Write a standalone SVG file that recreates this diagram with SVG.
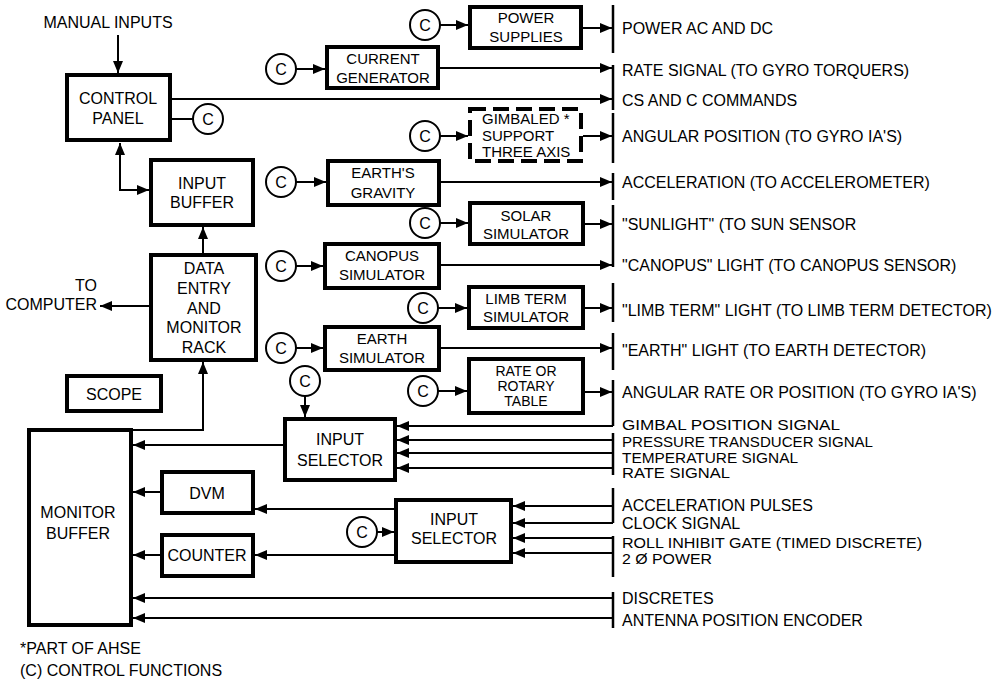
<svg xmlns="http://www.w3.org/2000/svg" width="997" height="683" viewBox="0 0 997 683">
<style>
text{font-family:"Liberation Sans",Arial,sans-serif;font-size:16px;fill:#000}
.m{text-anchor:middle}
.b{font-size:15px}
.s{font-size:14px}
.t{font-size:14px}
.box{fill:#fff;stroke:#000;stroke-width:4}
.dash{fill:#fff;stroke:#000;stroke-width:4;stroke-dasharray:16 7}
.ln{fill:none;stroke:#000;stroke-width:2}
.ar{fill:none;stroke:#000;stroke-width:2;marker-end:url(#ah)}
.bar{fill:none;stroke:#000;stroke-width:2.5}
.cc{fill:#fff;stroke:#000;stroke-width:2}
</style>
<defs>
<marker id="ah" viewBox="0 0 12 10" refX="12" refY="5" markerWidth="12" markerHeight="10" markerUnits="userSpaceOnUse" orient="auto-start-reverse"><path d="M0,0 L12,5 L0,10 z" fill="#000"/></marker>
</defs>
<rect width="997" height="683" fill="#fff"/>

<g id="connectors">
<line class="ar" x1="118" y1="35" x2="118" y2="73"/>
<line class="ln" x1="172" y1="119" x2="193" y2="119"/>
<line class="ar" x1="172" y1="99" x2="612" y2="99"/>
<path class="ar" d="M120,143 V190 H149" style="marker-start:url(#ah)"/>
<line class="ar" x1="203" y1="253" x2="203" y2="227"/>
<line class="ar" x1="149" y1="306" x2="100" y2="306"/>
<path class="ar" d="M131,430 H203 V362"/>
<line class="ar" x1="305" y1="396" x2="305" y2="417"/>
<line class="ar" x1="283" y1="445" x2="133" y2="445"/>
<line class="ar" x1="613" y1="426" x2="397" y2="426"/>
<line class="ar" x1="613" y1="440" x2="397" y2="440"/>
<line class="ar" x1="613" y1="453" x2="397" y2="453"/>
<line class="ar" x1="613" y1="468" x2="397" y2="468"/>
<line class="ar" x1="160" y1="492" x2="133" y2="492"/>
<line class="ar" x1="160" y1="555" x2="133" y2="555"/>
<line class="ar" x1="377" y1="532" x2="394" y2="532"/>
<line class="ar" x1="394" y1="509" x2="255" y2="509"/>
<line class="ar" x1="394" y1="555" x2="255" y2="555"/>
<line class="ar" x1="613" y1="506" x2="513" y2="506"/>
<line class="ar" x1="613" y1="523" x2="513" y2="523"/>
<line class="ar" x1="613" y1="538" x2="513" y2="538"/>
<line class="ar" x1="613" y1="553" x2="513" y2="553"/>
<line class="ar" x1="613" y1="598" x2="133" y2="598"/>
<line class="ar" x1="613" y1="618" x2="133" y2="618"/>
<line class="ar" x1="440" y1="25" x2="468" y2="25"/>
<line class="ar" x1="583" y1="28" x2="612" y2="28"/>
<line class="ar" x1="296" y1="69" x2="325" y2="69"/>
<line class="ar" x1="440" y1="68" x2="612" y2="68"/>
<line class="ar" x1="440" y1="136" x2="468" y2="136"/>
<line class="ar" x1="583" y1="136" x2="612" y2="136"/>
<line class="ar" x1="296" y1="182" x2="326" y2="182"/>
<line class="ar" x1="441" y1="182" x2="612" y2="182"/>
<line class="ar" x1="440" y1="223" x2="468" y2="223"/>
<line class="ar" x1="585" y1="224" x2="612" y2="224"/>
<line class="ar" x1="296" y1="266" x2="323" y2="266"/>
<line class="ar" x1="441" y1="265" x2="612" y2="265"/>
<line class="ar" x1="438" y1="308" x2="467" y2="308"/>
<line class="ar" x1="585" y1="308" x2="612" y2="308"/>
<line class="ar" x1="296" y1="348" x2="323" y2="348"/>
<line class="ar" x1="441" y1="348" x2="612" y2="348"/>
<line class="ar" x1="438" y1="391" x2="467" y2="391"/>
<line class="ar" x1="585" y1="392" x2="612" y2="392"/>
<path class="bar" d="M613,5 V53 M613,65 V110 M613,113 V163 M613,173 V200 M613,205 V267 M613,283 V322 M613,333 V370 M613,380 V426 M613,433 V475 M613,488 V523 M613,536 V577 M613,592 V628"/>
</g>

<g id="manual-inputs"><text class="m" x="108" y="28">MANUAL INPUTS</text></g>
<g id="control-panel"><rect class="box" x="67" y="75" width="103" height="65"/><text class="m" x="118" y="104">CONTROL</text><text class="m" x="118" y="124">PANEL</text></g>
<g id="c-control"><circle class="cc" cx="208" cy="119" r="15"/><text class="m" x="208" y="125">C</text></g>
<g id="input-buffer"><rect class="box" x="151" y="160" width="102" height="65"/><text class="m" x="202" y="189">INPUT</text><text class="m" x="202" y="208">BUFFER</text></g>
<g id="data-entry"><rect class="box" x="151" y="255" width="105" height="105"/><text class="m" x="204" y="274">DATA</text><text class="m" x="204" y="294">ENTRY</text><text class="m" x="204" y="314">AND</text><text class="m" x="204" y="333">MONITOR</text><text class="m" x="204" y="353">RACK</text></g>
<g id="to-computer"><text x="97" y="291" text-anchor="end">TO</text><text x="97" y="310" text-anchor="end">COMPUTER</text></g>
<g id="scope"><rect class="box" x="67" y="376" width="94" height="35"/><text class="m" x="114" y="400">SCOPE</text></g>
<g id="monitor-buffer"><rect class="box" x="29" y="430" width="102" height="195"/><text class="m" x="78" y="518">MONITOR</text><text class="m" x="78" y="539">BUFFER</text></g>
<g id="input-selector-1"><rect class="box" x="285" y="419" width="110" height="61"/><text class="m" x="340" y="445">INPUT</text><text class="m" x="340" y="466">SELECTOR</text></g>
<g id="c-sel1"><circle class="cc" cx="305" cy="381" r="15"/><text class="m" x="305" y="387">C</text></g>
<g id="dvm"><rect class="box" x="162" y="472" width="91" height="41"/><text class="m" x="207" y="499">DVM</text></g>
<g id="counter"><rect class="box" x="162" y="535" width="91" height="41"/><text class="m" x="207" y="561">COUNTER</text></g>
<g id="input-selector-2"><rect class="box" x="396" y="500" width="115" height="62"/><text class="m" x="454" y="525">INPUT</text><text class="m" x="454" y="544">SELECTOR</text></g>
<g id="c-sel2"><circle class="cc" cx="362" cy="532" r="15"/><text class="m" x="362" y="538">C</text></g>

<g id="power-supplies"><rect class="box" x="470" y="7" width="111" height="41"/><text class="m b" x="526" y="23">POWER</text><text class="m b" x="526" y="42">SUPPLIES</text></g>
<g id="c-power"><circle class="cc" cx="425" cy="25" r="15"/><text class="m" x="425" y="31">C</text></g>
<g id="current-generator"><rect class="box" x="327" y="47" width="111" height="41"/><text class="m b" x="383" y="64">CURRENT</text><text class="m b" x="383" y="83">GENERATOR</text></g>
<g id="c-current"><circle class="cc" cx="281" cy="69" r="15"/><text class="m" x="281" y="75">C</text></g>
<g id="gimbaled-support"><rect class="dash" x="470" y="109" width="111" height="52"/><text class="b" x="482" y="124">GIMBALED *</text><text class="b" x="482" y="141">SUPPORT</text><text class="b" x="482" y="157">THREE AXIS</text></g>
<g id="c-gimbal"><circle class="cc" cx="425" cy="136" r="15"/><text class="m" x="425" y="142">C</text></g>
<g id="earths-gravity"><rect class="box" x="328" y="161" width="111" height="44"/><text class="m b" x="383" y="178">EARTH'S</text><text class="m b" x="383" y="198">GRAVITY</text></g>
<g id="c-gravity"><circle class="cc" cx="281" cy="182" r="15"/><text class="m" x="281" y="188">C</text></g>
<g id="solar-simulator"><rect class="box" x="470" y="203" width="113" height="41"/><text class="m b" x="526" y="221">SOLAR</text><text class="m b" x="526" y="239">SIMULATOR</text></g>
<g id="c-solar"><circle class="cc" cx="425" cy="223" r="15"/><text class="m" x="425" y="229">C</text></g>
<g id="canopus-simulator"><rect class="box" x="325" y="244" width="114" height="44"/><text class="m b" x="382" y="261">CANOPUS</text><text class="m b" x="382" y="280">SIMULATOR</text></g>
<g id="c-canopus"><circle class="cc" cx="281" cy="266" r="15"/><text class="m" x="281" y="272">C</text></g>
<g id="limb-term-simulator"><rect class="box" x="469" y="287" width="114" height="41"/><text class="m b" x="526" y="304">LIMB TERM</text><text class="m b" x="526" y="322">SIMULATOR</text></g>
<g id="c-limb"><circle class="cc" cx="423" cy="308" r="15"/><text class="m" x="423" y="314">C</text></g>
<g id="earth-simulator"><rect class="box" x="325" y="327" width="114" height="43"/><text class="m b" x="382" y="344">EARTH</text><text class="m b" x="382" y="363">SIMULATOR</text></g>
<g id="c-earth"><circle class="cc" cx="281" cy="348" r="15"/><text class="m" x="281" y="354">C</text></g>
<g id="rate-table"><rect class="box" x="469" y="359" width="114" height="54"/><text class="m t" x="526" y="376">RATE OR</text><text class="m t" x="526" y="391">ROTARY</text><text class="m t" x="526" y="406">TABLE</text></g>
<g id="c-rate"><circle class="cc" cx="423" cy="391" r="15"/><text class="m" x="423" y="397">C</text></g>

<g id="outputs">
<text x="622" y="34">POWER AC AND DC</text>
<text x="622" y="76">RATE SIGNAL (TO GYRO TORQUERS)</text>
<text x="622" y="106">CS AND C COMMANDS</text>
<text x="622" y="142">ANGULAR POSITION (TO GYRO IA'S)</text>
<text x="622" y="188">ACCELERATION (TO ACCELEROMETER)</text>
<text x="622" y="230">"SUNLIGHT" (TO SUN SENSOR</text>
<text x="622" y="271">"CANOPUS" LIGHT (TO CANOPUS SENSOR)</text>
<text x="622" y="316">"LIMB TERM" LIGHT (TO LIMB TERM DETECTOR)</text>
<text x="622" y="356">"EARTH" LIGHT (TO EARTH DETECTOR)</text>
<text x="622" y="398">ANGULAR RATE OR POSITION (TO GYRO IA'S)</text>
<text class="s" x="622" y="430" textLength="218" lengthAdjust="spacingAndGlyphs">GIMBAL POSITION SIGNAL</text>
<text class="s" x="622" y="447" textLength="251" lengthAdjust="spacingAndGlyphs">PRESSURE TRANSDUCER SIGNAL</text>
<text class="s" x="622" y="463" textLength="176" lengthAdjust="spacingAndGlyphs">TEMPERATURE SIGNAL</text>
<text class="s" x="622" y="478" textLength="108" lengthAdjust="spacingAndGlyphs">RATE SIGNAL</text>
<text x="622" y="511">ACCELERATION PULSES</text>
<text x="622" y="529">CLOCK SIGNAL</text>
<text class="s" x="622" y="548" textLength="300" lengthAdjust="spacingAndGlyphs">ROLL INHIBIT GATE (TIMED DISCRETE)</text>
<text class="s" x="622" y="564" textLength="90" lengthAdjust="spacingAndGlyphs">2 Ø POWER</text>
<text x="622" y="604">DISCRETES</text>
<text x="622" y="626">ANTENNA POSITION ENCODER</text>
</g>
<g id="notes">
<text x="20" y="654">*PART OF AHSE</text>
<text x="20" y="676">(C) CONTROL FUNCTIONS</text>
</g>
</svg>
